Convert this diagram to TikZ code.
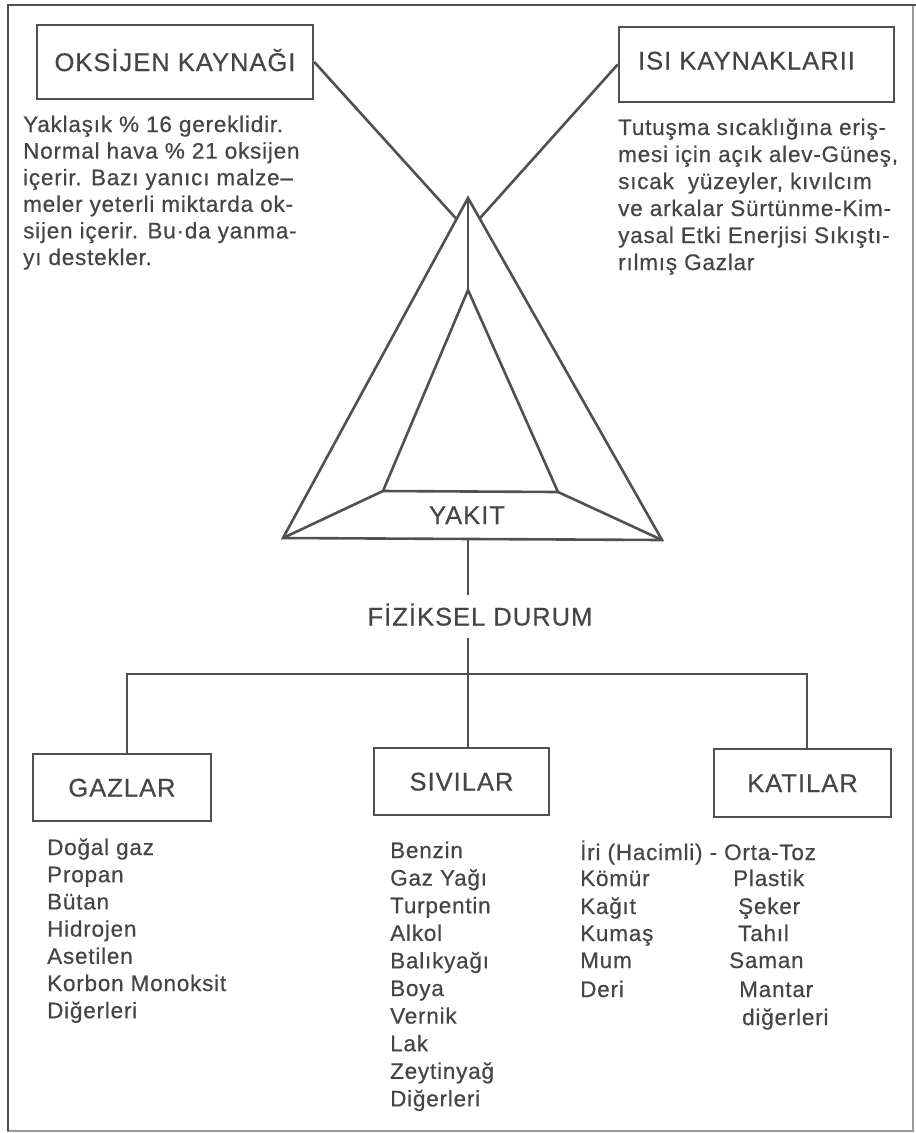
\documentclass[tikz,border=0pt]{standalone}
\usepackage{fontspec}
\setmainfont{Liberation Sans}[LetterSpace=3.5,FakeBold=0.5]
\newfontfamily\ttlfont{Liberation Sans}[LetterSpace=4,FakeBold=0.5]
\usetikzlibrary{calc}
\definecolor{lc}{HTML}{505050}
\definecolor{tc}{HTML}{454545}
\definecolor{fc}{HTML}{9A9A9A}
\begin{document}
\begin{tikzpicture}[x=1pt,y=-1pt,
  ln/.style={draw=lc, line width=2.6pt, line join=miter},
  ttl/.style={font=\ttlfont\fontsize{25.5}{30}\selectfont, text=tc, text height=18pt, text depth=0pt},
  box/.style={ttl, ln},
  para/.style={font=\fontsize{22.5}{27}\selectfont, text=tc, inner sep=0pt, anchor=base west}]
\useasboundingbox (0,0) rectangle (916,1133);
% frame
\draw[draw=fc, line width=1.2pt] (8,5) rectangle (913,1131);
\draw[draw=lc, line width=2.4pt] (8,1131) -- (8,5) -- (916,5);
% source boxes
\node[box, minimum width=276pt, minimum height=74pt] (oks) at (175,62) {OKSİJEN KAYNAĞI};
\node[box, minimum width=275pt, minimum height=75pt] (isi) at (756.5,64.5) {\raisebox{4pt}{ISI KAYNAKLARII}\hspace*{20pt}};
% triangle
\coordinate (A) at (468,198);
\coordinate (BL) at (283,538);
\coordinate (BR) at (662,540);
\coordinate (IA) at (468,290);
\coordinate (IL) at (383,491);
\coordinate (IR) at (558,492);
\coordinate (jl) at ($(A)!0.062!(BL)$);
\coordinate (jr) at ($(A)!0.06!(BR)$);
\draw[ln] (A) -- (BL) -- (BR) -- cycle;
\draw[ln] (IA) -- (IL) -- (IR) -- cycle;
\draw[ln] (IL) -- (BL);
\draw[ln] (IR) -- (BR);
\draw[ln] (A) -- (IA);
\draw[ln] (oks.east) -- (jl);
\draw[ln] (isi.west) -- (jr);
\node[ttl] (yak) at (467,515) {YAKIT};
% physical state
\node[ttl, inner ysep=12pt] (fiz) at (480,616.5) {FİZİKSEL DURUM};
\coordinate (ybase) at (468,539);
\coordinate (bus) at (468,674);
\node[box, minimum width=178pt, minimum height=67pt] (gaz) at (122,787.5) {GAZLAR};
\node[box, minimum width=175pt, minimum height=67pt] (siv) at (461.5,781.5) {SIVILAR};
\node[box, minimum width=177pt, minimum height=68pt] (kat) at (802.5,783) {KATILAR};
\draw[ln] (ybase) -- (ybase |- fiz.north);
\draw[ln] (ybase |- fiz.south) -- (bus) -- (bus |- siv.north);
\draw[ln] ([xshift=5pt]gaz.north) |- (bus) -| ([xshift=4.5pt]kat.north);
% paragraphs
\foreach \t [count=\i from 0] in {Yaklaşık \% 16 gereklidir., Normal hava \% 21 oksijen, içerir. Bazı yanıcı malze–, meler yeterli miktarda ok-, sijen içerir. Bu·da yanma-, yı destekler.}
  \node[para] (ot\i) at (23,132+26.6*\i) {\t};
\foreach \t [count=\i from 0] in {Tutuşma sıcaklığına eriş-, {mesi için açık alev-Güneş,}, {sıcak\ \ yüzeyler, kıvılcım}, ve arkalar Sürtünme-Kim-, yasal Etki Enerjisi Sıkıştı-, rılmış Gazlar}
  \node[para] (it\i) at (618,135+27*\i) {\t};
% lists
\foreach \t [count=\i from 0] in {Doğal gaz, Propan, Bütan, Hidrojen, Asetilen, Korbon Monoksit, Diğerleri}
  \node[para] (g\i) at (47,855+27.2*\i) {\t};
\foreach \t [count=\i from 0] in {Benzin, Gaz Yağı, Turpentin, Alkol, Balıkyağı, Boya, Vernik, Lak, Zeytinyağ, Diğerleri}
  \node[para] (s\i) at (390,858+27.6*\i) {\t};
\foreach \y/\t [count=\i from 0] in {860/İri (Hacimli) - Orta-Toz, 886/Kömür, 914/Kağıt, 941/Kumaş, 968/Mum, 997/Deri}
  \node[para] (k\i) at (580,\y) {\t};
\foreach \x/\y/\t [count=\i from 0] in {733/886/Plastik, 738/914/Şeker, 738/941/Tahıl, 729/968/Saman, 739/997/Mantar, 742/1025/diğerleri}
  \node[para] (m\i) at (\x,\y) {\t};
\end{tikzpicture}
\end{document}
